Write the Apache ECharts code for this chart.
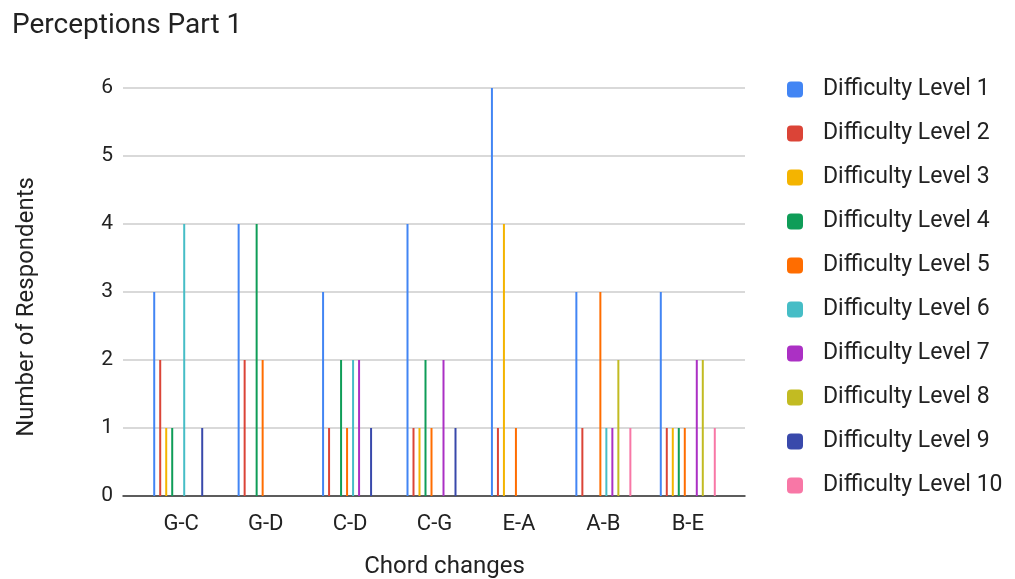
<!DOCTYPE html>
<html>
<head>
<meta charset="utf-8">
<script src="https://cdn.jsdelivr.net/npm/echarts@6/dist/echarts.min.js"></script>
<style>
html,body{margin:0;padding:0;background:#fff;}
#chart{width:1015px;height:579px;}
</style>
</head>
<body>
<div id="chart"></div>
<script>
var categories = ["G-C", "G-D", "C-D", "C-G", "E-A", "A-B", "B-E"];
var seriesNames = ["Difficulty Level 1","Difficulty Level 2","Difficulty Level 3","Difficulty Level 4","Difficulty Level 5","Difficulty Level 6","Difficulty Level 7","Difficulty Level 8","Difficulty Level 9","Difficulty Level 10"];
var level1  = [3, 4, 3, 4, 6, 3, 3];
var level2  = [2, 2, 1, 1, 1, 1, 1];
var level3  = [1, 0, 0, 1, 4, 0, 1];
var level4  = [1, 4, 2, 2, 0, 0, 1];
var level5  = [0, 2, 1, 1, 1, 3, 1];
var level6  = [4, 0, 2, 0, 0, 1, 0];
var level7  = [0, 0, 2, 2, 0, 1, 2];
var level8  = [0, 0, 0, 0, 0, 2, 2];
var level9  = [1, 0, 1, 1, 0, 0, 0];
var level10 = [0, 0, 0, 0, 0, 1, 1];
var yTicks = [0, 1, 2, 3, 4, 5, 6];
var colors = ["#4285F4","#DB4437","#F4B400","#0F9D58","#FF6D00","#46BDC6","#AB30C4","#C2BB22","#3949AB","#F877A6"];

var allLevels = [level1, level2, level3, level4, level5, level6, level7, level8, level9, level10];
var FONT = "Roboto";

var series = allLevels.map(function (vals, i) {
  return {
    name: seriesNames[i],
    type: "bar",
    xAxisIndex: 1,
    yAxisIndex: 1,
    data: vals,
    barWidth: 2,
    barGap: "200%",
    itemStyle: { color: colors[i] },
    emphasis: { disabled: true }
  };
});

var chart = echarts.init(document.getElementById("chart"), null, { renderer: "canvas" });
chart.setOption({
  animation: false,
  color: colors,
  textStyle: { fontFamily: FONT },
  title: {
    text: "Perceptions Part 1",
    left: 7,
    top: 7,
    textStyle: { fontFamily: FONT, fontSize: 28, fontWeight: "normal", color: "#222" }
  },
  legend: {
    orient: "vertical",
    left: 782,
    top: 73,
    itemWidth: 16,
    itemHeight: 16,
    itemGap: 21,
    icon: "roundRect",
    data: seriesNames,
    selectedMode: false,
    textStyle: { fontFamily: FONT, fontSize: 23, color: "#222", padding: [0, 0, 0, 15] }
  },
  grid: [
    { left: 123, right: 270, top: 88, bottom: 83, containLabel: false, outerBoundsMode: "none" },
    { left: 139, right: 285, top: 88, bottom: 83, containLabel: false, outerBoundsMode: "none" }
  ],
  xAxis: [
    {
      type: "value", gridIndex: 0, min: 0, max: 1,
      axisLine: { show: true, onZero: false, lineStyle: { color: "#333", width: 1.5 } },
      axisTick: { show: false }, axisLabel: { show: false }, splitLine: { show: false }
    },
    {
      type: "category", gridIndex: 1, data: categories,
      axisLine: { show: false }, axisTick: { show: false },
      axisLabel: { margin: 17, fontFamily: FONT, fontSize: 22, color: "#222" },
      name: "Chord changes", nameLocation: "middle", nameGap: 59,
      nameTextStyle: { fontFamily: FONT, fontSize: 24, color: "#222", padding: [0, 0, 0, 20] }
    }
  ],
  yAxis: [
    {
      type: "value", gridIndex: 0, min: 0, max: 6, interval: 1,
      axisLine: { show: false }, axisTick: { show: false },
      axisLabel: { margin: 10, fontFamily: FONT, fontSize: 21, color: "#222",
        formatter: function (v) { return yTicks.indexOf(v) >= 0 ? String(v) : ""; } },
      splitLine: { show: true, lineStyle: { color: "#cccccc", width: 1.5 } },
      name: "Number of Respondents", nameLocation: "middle", nameGap: 84, nameRotate: 90,
      nameTextStyle: { fontFamily: FONT, fontSize: 24, color: "#222", padding: [0, 30, 0, 0] }
    },
    {
      type: "value", gridIndex: 1, min: 0, max: 6, interval: 1, show: false
    }
  ],
  series: series
});
</script>
</body>
</html>
